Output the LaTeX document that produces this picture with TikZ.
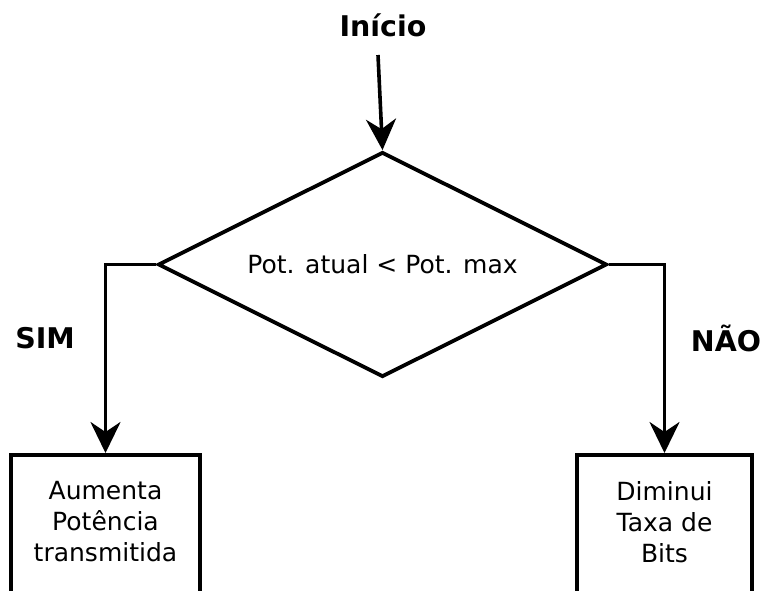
\documentclass[tikz,border=0pt]{standalone}
\usepackage{fontspec}
\setmainfont{DejaVu Sans}
\usetikzlibrary{shapes.geometric,arrows.meta}
\tikzset{
  x=1pt, y=-1pt,
  flow/.style={line width=3.6pt, -{Stealth[length=31pt,width=30pt,inset=10pt]}},
  lbl/.style={font=\fontsize{28.5}{34}\selectfont\bfseries, inner sep=0pt},
  txt/.style={font=\fontsize{25}{31}\selectfont, align=center, inner sep=0pt},
  decision/.style={draw, diamond, line width=3.8pt, minimum width=449pt, minimum height=225pt, inner sep=0pt},
  action/.style={draw, rectangle, line width=3.6pt, anchor=north, minimum height=160pt, inner sep=0pt},
}
\begin{document}
\begin{tikzpicture}
  \useasboundingbox (0,0) rectangle (762,590);
  \clip (0,0) rectangle (762,590);
  \fill[white] (0,0) rectangle (762,590);

  \node[lbl] (start) at (383,25) {Início};
  \coordinate (startend) at (378,55);

  \node[decision] (cond) at (382.5,264.5) {};
  \node[txt] (condtxt) at (382.5,264.5) {Pot. atual < Pot. max};

  \node[action, minimum width=189pt] (up) at (105.5,453) {};
  \node[txt] (uptxt) at (105.5,522) {Aumenta\\Potência\\transmitida};

  \node[action, minimum width=175pt] (down) at (664.5,453) {};
  \node[txt] (downtxt) at (664.5,522) {Diminui\\Taxa de\\Bits};

  \node[lbl] (yes) at (45,338) {SIM};
  \node[lbl] (no) at (726,338) {NÃO};

  \draw[flow] (startend) -- (cond.north);
  \draw[flow] (cond.west) -| (up.north);
  \draw[flow] (cond.east) -| (down.north);
\end{tikzpicture}
\end{document}
